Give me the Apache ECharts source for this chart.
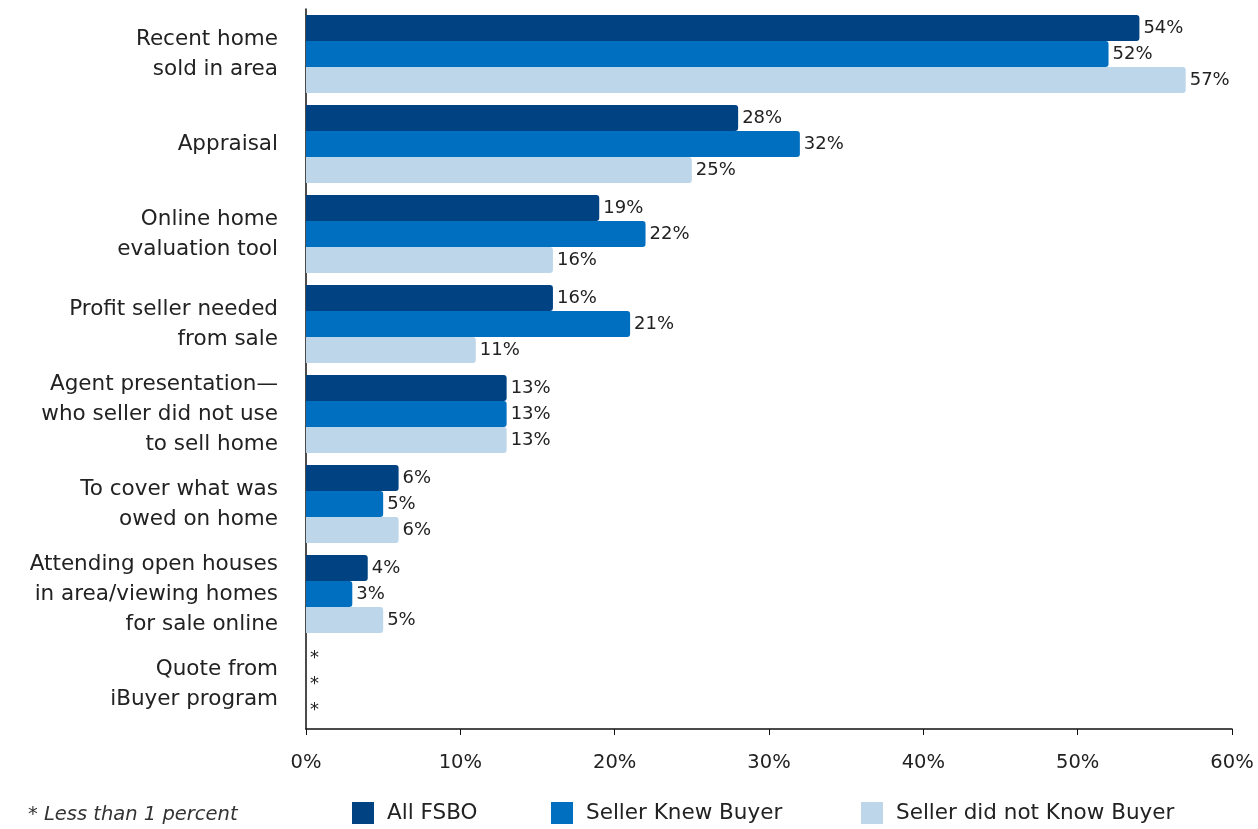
<!DOCTYPE html>
<html><head><meta charset="utf-8">
<script src="https://cdn.jsdelivr.net/npm/echarts@6/dist/echarts.min.js"></script>
<style>html,body{margin:0;padding:0;background:#fff}#c{width:1258px;height:829px}</style>
</head><body><div id="c"></div>
<script>
const categories = [
  "Recent home\nsold in area",
  "Appraisal",
  "Online home\nevaluation tool",
  "Profit seller needed\nfrom sale",
  "Agent presentation—\nwho seller did not use\nto sell home",
  "To cover what was\nowed on home",
  "Attending open houses\nin area/viewing homes\nfor sale online",
  "Quote from\niBuyer program"
];
const seriesNames = ["All FSBO", "Seller Knew Buyer", "Seller did not Know Buyer"];
const allFsbo = [54, 28, 19, 16, 13, 6, 4, 0];
const knewBuyer = [52, 32, 22, 21, 13, 5, 3, 0];
const didNotKnow = [57, 25, 16, 11, 13, 6, 5, 0];
const xTicks = [0, 10, 20, 30, 40, 50, 60];
const footnote = "* Less than 1 percent";

const colors = ["#004282", "#006FBF", "#BED6EA"];
const FONT = "DejaVu Sans";
const cats = categories.slice().reverse();
function mk(name, vals, i) {
  return {
    name: name, type: "bar", data: vals.slice().reverse(),
    barWidth: 26, barGap: "0%",
    itemStyle: { color: colors[i], borderRadius: [0, 3, 3, 0] },
    label: { show: true, position: "right", distance: 4, color: "#222", fontFamily: FONT, fontSize: 18,
      formatter: p => p.value === 0 ? "*" : p.value + "%" }
  };
}
const legendLefts = [352, 551, 861];
const chart = echarts.init(document.getElementById("c"));
chart.setOption({
  animation: false,
  textStyle: { fontFamily: FONT },
  grid: { left: 306, right: 26, top: 9, bottom: 100, containLabel: false },
  xAxis: {
    type: "value", min: xTicks[0], max: xTicks[xTicks.length - 1], interval: 10,
    axisLine: { show: true, lineStyle: { color: "#111", width: 1.5 } },
    axisTick: { show: true, length: 6, lineStyle: { color: "#111" } },
    splitLine: { show: false },
    axisLabel: { formatter: "{value}%", color: "#222", fontSize: 19.5, margin: 24, fontFamily: FONT }
  },
  yAxis: {
    type: "category", data: cats,
    axisLine: { show: true, lineStyle: { color: "#111", width: 1.5 } },
    axisTick: { show: false },
    axisLabel: { color: "#222", fontSize: 21.5, lineHeight: 30, margin: 28, align: "right", fontFamily: FONT }
  },
  series: [mk(seriesNames[0], allFsbo, 0), mk(seriesNames[1], knewBuyer, 1), mk(seriesNames[2], didNotKnow, 2)],
  legend: seriesNames.map((n, i) => ({
    data: [n], top: 802, left: legendLefts[i], padding: 0, itemWidth: 22, itemHeight: 22, itemGap: 0,
    icon: "rect", textStyle: { fontSize: 21.5, color: "#222", fontFamily: FONT, padding: [0, 0, 0, 8] }
  })),
  graphic: [{ type: "text", left: 28, top: 805,
    style: { text: footnote, fontSize: 19.5, fontStyle: "italic", fill: "#333", fontFamily: FONT } }]
});
</script></body></html>
